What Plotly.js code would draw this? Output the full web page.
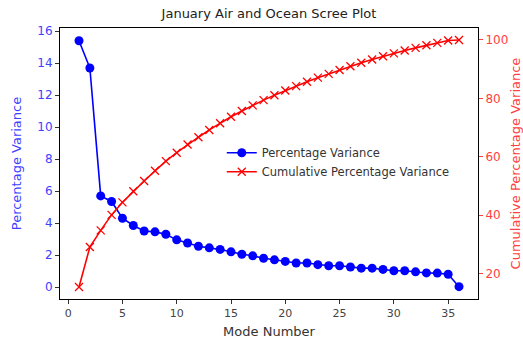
<!DOCTYPE html>
<html>
<head>
<meta charset="utf-8">
<script src="https://cdn.plot.ly/plotly-3.0.1.min.js"></script>
<style>html,body{margin:0;padding:0;background:#fff;}#chart{width:523px;height:343px;}</style>
</head>
<body>
<div id="chart"></div>
<script>
const modes = [1,2,3,4,5,6,7,8,9,10,11,12,13,14,15,16,17,18,19,20,21,22,23,24,25,26,27,28,29,30,31,32,33,34,35,36];
const percentVariance = [15.4,13.7,5.7,5.35,4.3,3.85,3.5,3.45,3.3,2.95,2.75,2.55,2.45,2.35,2.2,2.05,1.95,1.8,1.7,1.6,1.5,1.5,1.4,1.33,1.33,1.25,1.18,1.18,1.1,1.02,1.02,0.95,0.88,0.87,0.8,0.02];
const cumulativeVariance = [15.4,29.1,34.8,40.1,44.4,48.2,51.7,55.2,58.5,61.4,64.2,66.7,69.2,71.5,73.7,75.7,77.6,79.4,81.1,82.7,84.2,85.7,87.1,88.4,89.7,91.0,92.2,93.3,94.4,95.4,96.4,97.3,98.2,99.0,99.8,100.0];
const xTicks = [0,5,10,15,20,25,30,35];
const leftTicks = [0,2,4,6,8,10,12,14,16];
const rightTicks = [20,40,60,80,100];

const font = 'DejaVu Sans, sans-serif';
const blueTxt = 'rgb(64,64,255)';
const redTxt = 'rgb(255,64,64)';

const traces = [
  {x: modes, y: percentVariance, type:'scatter', mode:'lines+markers', name:'Percentage Variance',
   line:{color:'blue', width:1.6}, marker:{symbol:'circle', size:9, color:'blue'}, yaxis:'y'},
  {x: modes, y: cumulativeVariance, type:'scatter', mode:'lines+markers', name:'Cumulative Percentage Variance',
   line:{color:'red', width:1.6}, marker:{symbol:'x-thin', size:8, color:'red', line:{color:'red', width:1.3}}, yaxis:'y2'}
];

const layout = {
  width:523, height:343,
  margin:{l:60, r:45, t:28, b:44},
  paper_bgcolor:'#fff', plot_bgcolor:'#fff',
  font:{family:font, size:11, color:'#333'},
  title:{text:'January Air and Ocean Scree Plot', x:0.5, xref:'paper', y:0.975, yanchor:'top', font:{size:13, color:'#222'}},
  showlegend:true,
  legend:{x:0.387, y:0.593, xanchor:'left', yanchor:'top', bgcolor:'rgba(255,255,255,0)', font:{size:11.5, color:'#333'}, tracegroupgap:0},
  xaxis:{range:[-0.75,37.75], tickvals:xTicks, ticks:'outside', ticklen:4, tickcolor:'#333',
    showline:true, linecolor:'#000', linewidth:1, mirror:true, showgrid:false, zeroline:false,
    tickfont:{size:11, color:'#444'}, title:{text:'Mode Number', standoff:7, font:{size:13, color:'#333'}}},
  yaxis:{range:[-0.75,16.2], tickvals:leftTicks, ticks:'outside', ticklen:4, tickcolor:'#333',
    showline:true, linecolor:'#000', linewidth:1, showgrid:false, zeroline:false,
    tickfont:{size:12, color:blueTxt}, title:{text:'Percentage Variance', standoff:12, font:{size:13, color:blueTxt}}},
  yaxis2:{range:[11.3,104.1], tickvals:rightTicks, overlaying:'y', side:'right', ticks:'outside', ticklen:4, tickcolor:redTxt,
    showline:true, linecolor:'#000', linewidth:1, showgrid:false, zeroline:false,
    tickfont:{size:12, color:redTxt}, title:{text:'Cumulative Percentage Variance', standoff:9, font:{size:13, color:redTxt}}}
};

Plotly.newPlot('chart', traces, layout, {displayModeBar:false, staticPlot:true});
</script>
</body>
</html>
